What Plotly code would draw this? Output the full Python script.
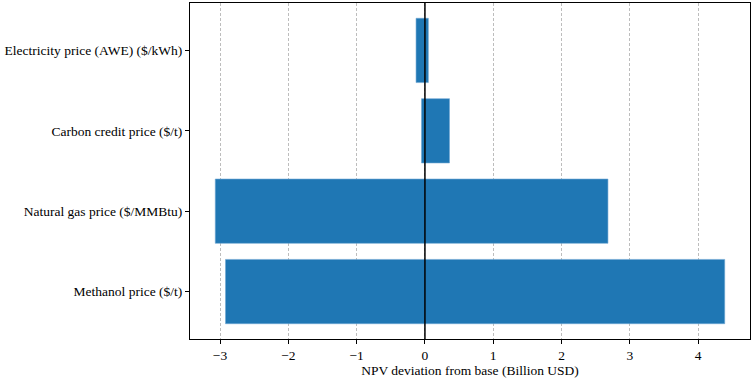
import plotly.graph_objects as go

categories = ["Methanol price ($/t)", "Natural gas price ($/MMBtu)",
              "Carbon credit price ($/t)", "Electricity price (AWE) ($/kWh)"]
low_values = [-2.92, -3.07, -0.05, -0.13]
high_values = [4.39, 2.68, 0.36, 0.05]
x_ticks = [-3, -2, -1, 0, 1, 2, 3, 4]

font_family = "'Times New Roman', 'Liberation Serif', Times, serif"
fsize = 13.5

fig = go.Figure()
fig.add_trace(go.Bar(
    y=categories,
    x=[h - l for h, l in zip(high_values, low_values)],
    base=low_values,
    orientation="h",
    width=0.8,
    marker=dict(color="#1f77b4", line=dict(color="#6fa6d3", width=0.6)),
    showlegend=False,
))

fig.add_shape(type="line", xref="x", yref="paper", x0=0, x1=0, y0=0, y1=1,
              line=dict(color="black", width=1.5), layer="above")

fig.update_layout(
    width=754, height=382,
    margin=dict(l=190, r=4, t=3, b=43),
    plot_bgcolor="white", paper_bgcolor="white",
    font=dict(family=font_family, size=fsize, color="black"),
    bargap=0.2,
)
fig.update_xaxes(
    range=[-3.44, 4.76],
    tickvals=x_ticks,
    ticktext=["\u2212" + str(-t) if t < 0 else str(t) for t in x_ticks],
    showgrid=True, gridcolor="#bdbdbd", griddash="3px,2px", gridwidth=0.8,
    zeroline=False,
    showline=True, linecolor="black", linewidth=1, mirror=True,
    ticks="outside", ticklen=4, tickcolor="black",
    tickfont=dict(family=font_family, size=fsize),
    title=dict(text="NPV deviation from base (Billion USD)", standoff=0,
               font=dict(family=font_family, size=fsize)),
    layer="above traces",
)
fig.update_yaxes(
    categoryorder="array", categoryarray=categories,
    range=[-0.59, 3.59],
    showgrid=False, zeroline=False,
    showline=True, linecolor="black", linewidth=1, mirror=True,
    ticks="outside", ticklen=4, tickcolor="black",
    tickfont=dict(family=font_family, size=fsize),
)

fig.write_html("out.html", config={"displayModeBar": False},
               post_script="document.body.style.margin='0';document.body.style.padding='0';")
